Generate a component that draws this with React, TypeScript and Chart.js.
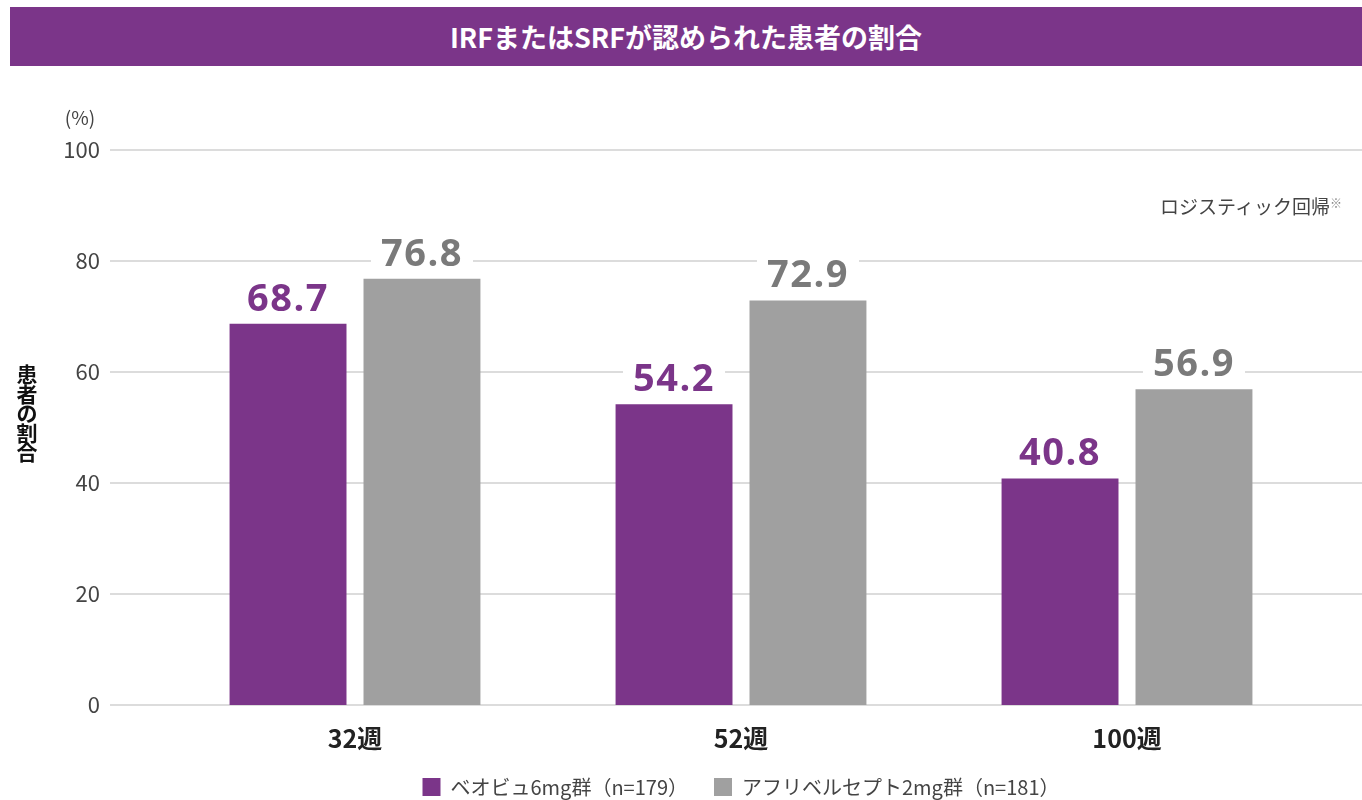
import React, { useEffect, useRef } from "react";
import { Chart, registerables } from "chart.js";

Chart.register(...registerables);

const categories = ["32週", "52週", "100週"];
const beovuValues = [68.7, 54.2, 40.8];
const afliberceptValues = [76.8, 72.9, 56.9];
const seriesNames = ["ベオビュ6mg群（n=179）", "アフリベルセプト2mg群（n=181）"];
const yTicks = [0, 20, 40, 60, 80, 100];
const yTitleChars = ["患", "者", "の", "割", "合"];

const PURPLE = "#7B3589";
const GRAY = "#A0A0A0";
const GRAY_TEXT = "#7A7A7A";
const JP = '"Noto Sans CJK JP", "Noto Sans", sans-serif';

const gridPlugin = {
  id: "fullGrid",
  beforeDatasetsDraw(chart: any) {
    const ctx = chart.ctx;
    const y = chart.scales.y;
    ctx.save();
    ctx.strokeStyle = "#dcdcdc";
    ctx.lineWidth = 2;
    for (const t of y.ticks) {
      const py = Math.round(y.getPixelForValue(t.value));
      ctx.beginPath();
      ctx.moveTo(110, py);
      ctx.lineTo(chart.width, py);
      ctx.stroke();
    }
    ctx.restore();
  },
};

const valueLabelPlugin = {
  id: "valueLabels",
  afterDatasetsDraw(chart: any) {
    const ctx = chart.ctx;
    ctx.save();
    ctx.font = 'bold 38px "Open Sans", sans-serif';
    (ctx as any).letterSpacing = "1.5px";
    ctx.textAlign = "center";
    ctx.textBaseline = "middle";
    chart.data.datasets.forEach((ds: any, i: number) => {
      const meta = chart.getDatasetMeta(i);
      meta.data.forEach((el: any, j: number) => {
        const text = Number(ds.data[j]).toFixed(1);
        const w = ctx.measureText(text).width;
        const cy = el.y - 25;
        ctx.fillStyle = "#ffffff";
        ctx.fillRect(el.x - w / 2 - 10, cy - 16, w + 20, 32);
        ctx.fillStyle = i === 0 ? PURPLE : GRAY_TEXT;
        ctx.fillText(text, el.x, cy + 1);
      });
    });
    ctx.restore();
  },
};

export default function App() {
  const ref = useRef<HTMLCanvasElement | null>(null);

  useEffect(() => {
    if (!ref.current) return;
    const chart = new Chart(ref.current, {
      type: "bar",
      data: {
        labels: categories,
        datasets: [
          {
            label: seriesNames[0],
            data: beovuValues,
            backgroundColor: PURPLE,
            categoryPercentage: 0.694,
            barPercentage: 0.873,
          },
          {
            label: seriesNames[1],
            data: afliberceptValues,
            backgroundColor: GRAY,
            categoryPercentage: 0.694,
            barPercentage: 0.873,
          },
        ],
      },
      options: {
        responsive: false,
        animation: false,
        devicePixelRatio: 1,
        layout: { padding: { top: 150, left: 0, right: 42, bottom: -7 } },
        plugins: {
          tooltip: { enabled: false },
          legend: {
            position: "bottom",
            fullSize: false,
            labels: {
              boxWidth: 18,
              boxHeight: 18,
              padding: 26,
              color: "#444",
              font: { family: JP, size: 20 },
            },
          },
        },
        scales: {
          x: {
            grid: { display: false, drawTicks: false },
            border: { display: false },
            ticks: {
              padding: 18,
              color: "#222",
              font: { family: JP, size: 25, weight: "bold" },
            },
            afterFit(scale: any) {
              scale.height = 46;
            },
          },
          y: {
            min: 0,
            max: 100,
            afterBuildTicks(scale: any) {
              scale.ticks = yTicks.map((v) => ({ value: v }));
            },
            grid: { display: false, drawTicks: false },
            border: { display: false },
            ticks: {
              padding: 62,
              color: "#444",
              font: { family: JP, size: 22 },
            },
            afterFit(scale: any) {
              scale.width = 162;
            },
          },
        },
      },
      plugins: [gridPlugin, valueLabelPlugin],
    } as any);
    return () => chart.destroy();
  }, []);

  return (
    <div
      style={{
        position: "fixed",
        left: 0,
        top: 0,
        width: 1362,
        height: 800,
        background: "#fff",
        overflow: "hidden",
      }}
    >
      <canvas
        ref={ref}
        width={1362}
        height={800}
        style={{ position: "absolute", left: 0, top: 0, width: 1362, height: 800 }}
      />
      <div
        style={{
          position: "absolute",
          left: 10,
          top: 7,
          width: 1352,
          height: 59,
          background: PURPLE,
          color: "#fff",
          fontFamily: JP,
          fontWeight: "bold",
          fontSize: 27,
          lineHeight: "59px",
          textAlign: "center",
        }}
      >
        IRFまたはSRFが認められた患者の割合
      </div>
      <div
        style={{
          position: "absolute",
          left: 50,
          top: 104,
          width: 60,
          textAlign: "center",
          fontFamily: JP,
          fontSize: 19,
          color: "#444",
          lineHeight: "26px",
        }}
      >
        (%)
      </div>
      <div
        style={{
          position: "absolute",
          right: 20,
          top: 190,
          fontFamily: JP,
          fontSize: 19,
          color: "#444",
          lineHeight: "26px",
          whiteSpace: "nowrap",
        }}
      >
        ロジスティック回帰<span style={{ fontSize: 12, verticalAlign: "6px", color: "#888" }}>※</span>
      </div>
      <div
        style={{
          position: "absolute",
          left: 14,
          top: 364,
          width: 26,
          fontFamily: JP,
          fontWeight: "bold",
          fontSize: 21,
          color: "#111",
          textAlign: "center",
        }}
      >
        {yTitleChars.map((c) => (
          <div key={c} style={{ height: 19.5, lineHeight: "19.5px" }}>
            {c}
          </div>
        ))}
      </div>
    </div>
  );
}
